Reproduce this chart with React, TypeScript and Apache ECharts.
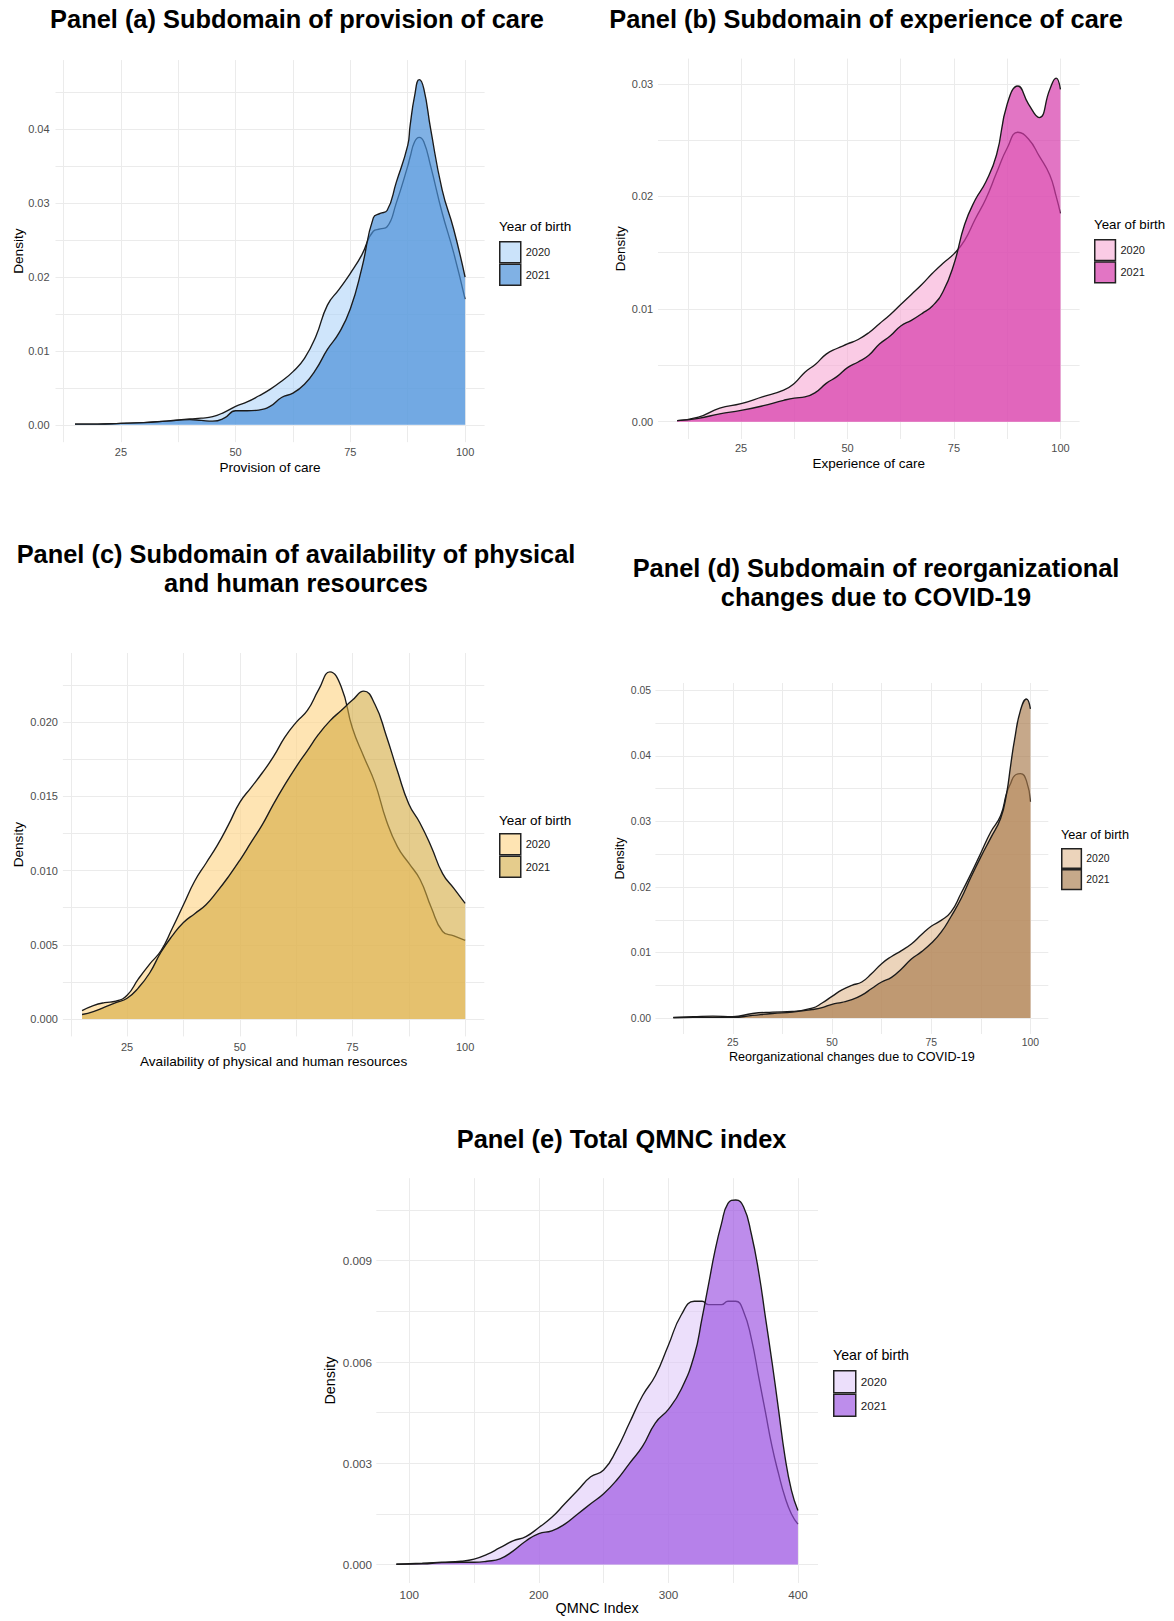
import React, { useEffect, useRef } from 'react';
import * as echarts from 'echarts';

// ---------- Panel (a) Provision of care ----------
const provisionX = [15, 20, 25, 30, 35, 40, 42.5, 45, 47.5, 50, 52.5, 55, 57.5, 60, 62.5, 65, 67.5, 70, 72.5, 75, 77.5, 80, 81.5, 83, 85, 87.5, 88, 89, 90, 91, 92.5, 95, 97.5, 100];
const provision2020 = [0.0001, 0.0001, 0.0002, 0.0003, 0.0005, 0.0008, 0.0009, 0.0011, 0.0017, 0.0025, 0.0031, 0.0039, 0.0048, 0.0059, 0.0072, 0.009, 0.012, 0.0162, 0.0183, 0.0205, 0.023, 0.0262, 0.0265, 0.0268, 0.03, 0.035, 0.0362, 0.0383, 0.0389, 0.0383, 0.035, 0.0287, 0.0233, 0.017];
const provision2021 = [0.0001, 0.0001, 0.0002, 0.0003, 0.0005, 0.0007, 0.0006, 0.0005, 0.0009, 0.0019, 0.0019, 0.002, 0.0025, 0.0037, 0.0043, 0.0055, 0.0075, 0.0102, 0.0124, 0.0157, 0.0212, 0.028, 0.0286, 0.029, 0.0328, 0.0378, 0.0404, 0.0445, 0.0467, 0.0455, 0.04, 0.0318, 0.0265, 0.02];

// ---------- Panel (b) Experience of care ----------
const experienceX = [10, 15, 20, 25, 30, 35, 37.5, 40, 42.5, 45, 47.5, 50, 52.5, 55, 57.5, 60, 62.5, 65, 67.5, 70, 72.5, 75, 77.5, 80, 82.5, 85, 87.5, 90, 92.5, 95, 97.5, 99, 100];
const experience2020 = [0.0001, 0.0004, 0.0012, 0.0016, 0.0022, 0.0028, 0.0034, 0.0044, 0.0051, 0.006, 0.0065, 0.0069, 0.0073, 0.0079, 0.0087, 0.0095, 0.0104, 0.0113, 0.0122, 0.0132, 0.0141, 0.0149, 0.0161, 0.018, 0.0198, 0.0221, 0.0243, 0.0257, 0.0251, 0.0236, 0.0219, 0.02, 0.0185];
const experience2021 = [0.0001, 0.0003, 0.0007, 0.001, 0.0014, 0.0019, 0.0021, 0.0022, 0.0026, 0.0034, 0.004, 0.0048, 0.0053, 0.0059, 0.0069, 0.0076, 0.0085, 0.009, 0.0096, 0.0103, 0.0116, 0.014, 0.0175, 0.0197, 0.0213, 0.0237, 0.0282, 0.0298, 0.0282, 0.027, 0.0295, 0.0305, 0.0295];

// ---------- Panel (c) Availability of physical and human resources ----------
const availabilityX = [15, 17.5, 20, 22.5, 25, 27.5, 30, 32.5, 35, 37.5, 40, 42.5, 45, 47.5, 50, 52.5, 55, 57.5, 60, 62.5, 65, 67.5, 70, 72.5, 75, 77.5, 80, 82.5, 85, 87.5, 90, 92.5, 95, 97.5, 100];
const availability2020 = [0.00056, 0.0009, 0.0011, 0.0012, 0.0016, 0.0027, 0.0037, 0.0046, 0.0061, 0.0077, 0.0093, 0.0105, 0.0117, 0.0131, 0.0146, 0.0156, 0.0166, 0.0177, 0.019, 0.02, 0.0208, 0.0222, 0.0234, 0.0224, 0.0196, 0.0177, 0.0159, 0.0134, 0.0116, 0.0105, 0.0094, 0.0075, 0.0059, 0.0056, 0.0053];
const availability2021 = [0.0003, 0.0005, 0.0008, 0.0011, 0.0014, 0.0021, 0.0031, 0.0045, 0.0056, 0.0065, 0.0071, 0.0077, 0.0086, 0.0096, 0.0107, 0.0119, 0.0131, 0.0145, 0.0158, 0.017, 0.0181, 0.0192, 0.0201, 0.0208, 0.0215, 0.0221, 0.0212, 0.0191, 0.0167, 0.0145, 0.0132, 0.0116, 0.0098, 0.0088, 0.0078];

// ---------- Panel (d) Reorganizational changes due to COVID-19 ----------
const reorgX = [10, 15, 20, 25, 30, 35, 40, 45, 47.5, 50, 52.5, 55, 57.5, 60, 62.5, 65, 67.5, 70, 72.5, 75, 77.5, 80, 82.5, 85, 87.5, 90, 92.5, 94, 95, 96, 97.5, 99, 100];
const reorg2020 = [0.0001, 0.0002, 0.0003, 0.0002, 0.0007, 0.0009, 0.001, 0.0015, 0.0023, 0.0033, 0.0043, 0.005, 0.0055, 0.0068, 0.0083, 0.0094, 0.0103, 0.0113, 0.0127, 0.014, 0.0149, 0.0162, 0.019, 0.022, 0.0252, 0.0284, 0.0309, 0.0343, 0.0358, 0.037, 0.0373, 0.0362, 0.033];
const reorg2021 = [0.00005, 0.0001, 0.0001, 0.0001, 0.0004, 0.0007, 0.0009, 0.0013, 0.0016, 0.0021, 0.0024, 0.0028, 0.0035, 0.0045, 0.0055, 0.0062, 0.0075, 0.009, 0.0101, 0.0114, 0.0131, 0.0155, 0.0182, 0.0215, 0.0246, 0.0275, 0.0305, 0.0343, 0.0385, 0.0425, 0.047, 0.0487, 0.0472];

// ---------- Panel (e) Total QMNC index ----------
const qmncX = [90, 110, 125, 140, 150, 160, 170, 180, 190, 200, 210, 220, 230, 240, 250, 260, 270, 280, 290, 300, 310, 320, 326, 331, 336, 341, 346, 352, 358, 364, 370, 375, 380, 385, 390, 395, 400];
const qmnc2020 = [0.00001, 0.00004, 0.00007, 0.0001, 0.00016, 0.0003, 0.0005, 0.0007, 0.00083, 0.0011, 0.0014, 0.0018, 0.0022, 0.0026, 0.0028, 0.0034, 0.0042, 0.005, 0.0056, 0.0065, 0.0074, 0.0078, 0.0078, 0.0077, 0.0077, 0.0077, 0.0078, 0.0078, 0.0075, 0.0067, 0.0055, 0.0045, 0.0035, 0.0027, 0.002, 0.0015, 0.0012];
const qmnc2021 = [0.00001, 0.00002, 0.00006, 0.00007, 0.00007, 0.0001, 0.00017, 0.0004, 0.0007, 0.00092, 0.001, 0.0012, 0.0015, 0.0018, 0.0021, 0.0025, 0.003, 0.0035, 0.0042, 0.0046, 0.0052, 0.0062, 0.0073, 0.0083, 0.0093, 0.0101, 0.0107, 0.0108, 0.0106, 0.0098, 0.0086, 0.0073, 0.006, 0.0046, 0.0032, 0.0022, 0.0016];

// ---------- Tick labels ----------
const subdomainTicks = [25, 50, 75, 100];
const subdomainMinor = [12.5, 37.5, 62.5, 87.5];
const qmncTicks = [100, 200, 300, 400];
const qmncMinor = [150, 250, 350];
const yTicksA = [0, 0.01, 0.02, 0.03, 0.04];
const yMinorA = [0.005, 0.015, 0.025, 0.035, 0.045];
const yTicksB = [0, 0.01, 0.02, 0.03];
const yMinorB = [0.005, 0.015, 0.025];
const yTicksC = [0, 0.005, 0.01, 0.015, 0.02];
const yMinorC = [0.0025, 0.0075, 0.0125, 0.0175, 0.0225];
const yTicksD = [0, 0.01, 0.02, 0.03, 0.04, 0.05];
const yMinorD = [0.005, 0.015, 0.025, 0.035, 0.045];
const yTicksE = [0, 0.003, 0.006, 0.009];
const yMinorE = [0.0015, 0.0045, 0.0075, 0.0105];

const years = ['2020', '2021'];

const FONT = '"Liberation Sans", Arial, Helvetica, sans-serif';

const panels = [
  {
    title: 'Panel (a) Subdomain of provision of care', titleX: 297, titleY: 19,
    grid: { left: 55.5, top: 60.1, width: 429.1, height: 382.1 },
    x: provisionX, y2020: provision2020, y2021: provision2021,
    xMin: 10.75, xMax: 104.25, xTicks: subdomainTicks, xMinor: subdomainMinor,
    yMin: -0.00235, yMax: 0.04935, yTicks: yTicksA, yMinor: yMinorA, yDigits: 2,
    xName: 'Provision of care', xNameY: 468, densityX: 17.6,
    xLabelMargin: 4.5, yLabelMargin: 5.9, tick: 11, axisTitle: 13.6,
    fills: ['#a8d0f7', '#4a90d9'], opac: [0.55, 0.7], keys: ['#cbe3fa', '#80b1e4'],
    legend: { x: 499, titleY: 226, top: 241, size: 21, title: 13.5, text: 11 },
  },
  {
    title: 'Panel (b) Subdomain of experience of care', titleX: 866, titleY: 19,
    grid: { left: 658, top: 58.6, width: 421.6, height: 380.4 },
    x: experienceX, y2020: experience2020, y2021: experience2021,
    xMin: 5.5, xMax: 104.5, xTicks: subdomainTicks, xMinor: subdomainMinor,
    yMin: -0.001535, yMax: 0.032235, yTicks: yTicksB, yMinor: yMinorB, yDigits: 2,
    xName: 'Experience of care', xNameY: 464, densityX: 620,
    xLabelMargin: 3.5, yLabelMargin: 4.8, tick: 11, axisTitle: 13.5,
    fills: ['#f7a8d4', '#d63aab'], opac: [0.6, 0.7], keys: ['#facbe5', '#e275c4'],
    legend: { x: 1094, titleY: 224, top: 239, size: 20.7, title: 13.3, text: 11 },
  },
  {
    title: 'Panel (c) Subdomain of availability of physical\nand human resources', titleX: 296, titleY: 568.5,
    grid: { left: 62.9, top: 653, width: 421.4, height: 383.4 },
    x: availabilityX, y2020: availability2020, y2021: availability2021,
    xMin: 10.75, xMax: 104.25, xTicks: subdomainTicks, xMinor: subdomainMinor,
    yMin: -0.001175, yMax: 0.024675, yTicks: yTicksC, yMinor: yMinorC, yDigits: 3,
    xName: 'Availability of physical and human resources', xNameY: 1062, densityX: 17.6,
    xLabelMargin: 4.6, yLabelMargin: 5, tick: 11, axisTitle: 13.6,
    fills: ['#fdd58a', '#d4aa40'], opac: [0.65, 0.6], keys: ['#fee4b3', '#e5cc8c'],
    legend: { x: 499, titleY: 820, top: 833, size: 21, title: 13.5, text: 11 },
  },
  {
    title: 'Panel (d) Subdomain of reorganizational\nchanges due to COVID-19', titleX: 876, titleY: 582,
    grid: { left: 655.4, top: 683, width: 392.9, height: 351 },
    x: reorgX, y2020: reorg2020, y2021: reorg2021,
    xMin: 5.5, xMax: 104.5, xTicks: subdomainTicks, xMinor: subdomainMinor,
    yMin: -0.002435, yMax: 0.051135, yTicks: yTicksD, yMinor: yMinorD, yDigits: 2,
    xName: 'Reorganizational changes due to COVID-19', xNameY: 1057, densityX: 620,
    xLabelMargin: 3, yLabelMargin: 4.3, tick: 10.4, axisTitle: 12.6,
    fills: ['#e0b88e', '#a87a4c'], opac: [0.6, 0.65], keys: ['#ecd4bb', '#c6a98a'],
    legend: { x: 1061, titleY: 835, top: 848, size: 19.6, title: 12.7, text: 10.4 },
  },
  {
    title: 'Panel (e) Total QMNC index', titleX: 621.6, titleY: 1139,
    grid: { left: 376.3, top: 1178.2, width: 441.7, height: 404.8 },
    x: qmncX, y2020: qmnc2020, y2021: qmnc2021,
    xMin: 74.5, xMax: 415.5, xTicks: qmncTicks, xMinor: qmncMinor,
    yMin: -0.000545, yMax: 0.011445, yTicks: yTicksE, yMinor: yMinorE, yDigits: 3,
    xName: 'QMNC Index', xNameY: 1609, densityX: 328.6,
    xLabelMargin: 5.5, yLabelMargin: 4.3, tick: 11.7, axisTitle: 14.4,
    fills: ['#dcc4f7', '#9a4fe0'], opac: [0.55, 0.65], keys: ['#ecdffb', '#bd8deb'],
    legend: { x: 833, titleY: 1355, top: 1370, size: 22, title: 14.2, text: 11.7 },
  },
];

function buildOption() {
  const grid: any[] = [];
  const xAxis: any[] = [];
  const yAxis: any[] = [];
  const series: any[] = [];
  const legend: any[] = [];
  const graphic: any[] = [];
  const gridLine = { show: true, lineStyle: { color: '#ebebeb', width: 1 } };

  panels.forEach((p, i) => {
    grid.push({ ...p.grid, containLabel: false, outerBoundsMode: 'none' });
    const gridBottom = p.grid.top + p.grid.height;
    xAxis.push({
      type: 'value', gridIndex: i, min: p.xMin, max: p.xMax,
      axisLine: { show: false, onZero: false },
      axisTick: { show: false, customValues: [...p.xTicks, ...p.xMinor] },
      axisLabel: { customValues: p.xTicks, margin: p.xLabelMargin, color: '#4d4d4d', fontSize: p.tick, fontFamily: FONT },
      splitLine: gridLine,
      name: p.xName, nameLocation: 'middle', nameMoveOverlap: false,
      nameGap: p.xNameY - p.axisTitle * 0.55 - gridBottom,
      nameTextStyle: { color: '#000', fontSize: p.axisTitle, fontFamily: FONT },
    });
    yAxis.push({
      type: 'value', gridIndex: i, min: p.yMin, max: p.yMax,
      axisLine: { show: false, onZero: false },
      axisTick: { show: false, customValues: [...p.yTicks, ...p.yMinor] },
      axisLabel: {
        customValues: p.yTicks, margin: p.yLabelMargin, color: '#4d4d4d', fontSize: p.tick, fontFamily: FONT,
        formatter: (v: number) => v.toFixed(p.yDigits),
      },
      splitLine: gridLine,
      name: 'Density', nameLocation: 'middle', nameRotate: 90, nameMoveOverlap: false,
      nameGap: p.grid.left - (p.densityX + p.axisTitle * 0.55),
      nameTextStyle: { color: '#000', fontSize: p.axisTitle, fontFamily: FONT },
    });
    const ys = [p.y2020, p.y2021];
    years.forEach((yr, k) => {
      series.push({
        type: 'line', name: yr, xAxisIndex: i, yAxisIndex: i,
        data: p.x.map((xv, j) => [xv, ys[k][j]]),
        smooth: 0.5, showSymbol: false, symbol: 'none',
        lineStyle: { color: '#1a1a1a', width: 1.35 },
        itemStyle: { color: p.keys[k] },
        areaStyle: { color: p.fills[k], opacity: p.opac[k], origin: 0 },
        emphasis: { disabled: true }, silent: true, z: 2 + k,
      });
    });
    legend.push({
      orient: 'vertical', left: p.legend.x, top: p.legend.top, padding: 0,
      itemWidth: p.legend.size, itemHeight: p.legend.size, itemGap: 0,
      icon: 'rect', selectedMode: false,
      textStyle: { fontSize: p.legend.text, color: '#1a1a1a', fontFamily: FONT },
      data: years.map((yr, k) => ({
        name: yr,
        itemStyle: { color: p.keys[k], borderColor: '#222', borderWidth: 1.5, opacity: 1 },
      })),
    });
    graphic.push({
      type: 'text', x: p.legend.x, y: p.legend.titleY,
      style: {
        text: 'Year of birth', fill: '#000', fontSize: p.legend.title, fontFamily: FONT,
        align: 'left', verticalAlign: 'middle', textAlign: 'left', textVerticalAlign: 'middle',
      },
    });
    graphic.push({
      type: 'text', x: p.titleX, y: p.titleY,
      style: {
        text: p.title, fill: '#000', fontSize: 25.4, fontWeight: 'bold', fontFamily: FONT, lineHeight: 29,
        align: 'center', verticalAlign: 'middle', textAlign: 'center', textVerticalAlign: 'middle',
      },
    });
  });

  return {
    animation: false,
    backgroundColor: '#ffffff',
    textStyle: { fontFamily: FONT },
    grid, xAxis, yAxis, series, legend, graphic,
  };
}

export default function App() {
  const ref = useRef<HTMLDivElement>(null);
  useEffect(() => {
    if (!ref.current) return;
    const chart = echarts.init(ref.current, null, { renderer: 'svg' });
    chart.setOption(buildOption() as any);
    return () => chart.dispose();
  }, []);
  return (
    <div
      ref={ref}
      style={{ position: 'absolute', left: 0, top: 0, width: 1174, height: 1621, background: '#fff' }}
    />
  );
}
